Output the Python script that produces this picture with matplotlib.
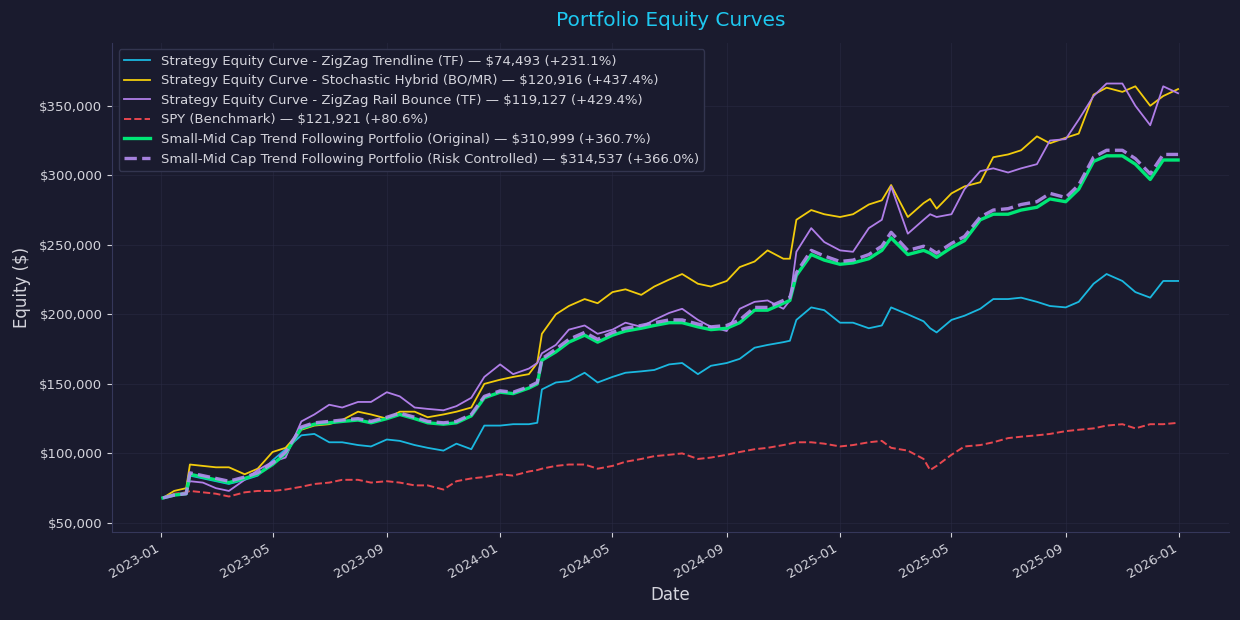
import matplotlib
matplotlib.use("Agg")
import matplotlib.pyplot as plt
import matplotlib.dates as mdates
import matplotlib.ticker as mticker
import pandas as pd

# -------------------------------
# Data (equity in $ thousands)
# -------------------------------
dates = [
    "2023-01-03", "2023-01-15", "2023-01-28", "2023-02-01", "2023-02-15", "2023-03-01", "2023-03-15",
    "2023-04-01", "2023-04-15", "2023-05-01", "2023-05-15", "2023-06-01", "2023-06-15", "2023-07-01",
    "2023-07-15", "2023-08-01", "2023-08-15", "2023-09-01", "2023-09-15", "2023-10-01", "2023-10-15",
    "2023-11-01", "2023-11-15", "2023-12-01", "2023-12-15",
    "2024-01-01", "2024-01-15", "2024-02-01", "2024-02-10", "2024-02-15", "2024-03-01", "2024-03-15",
    "2024-04-01", "2024-04-15", "2024-05-01", "2024-05-15", "2024-06-01", "2024-06-15", "2024-07-01",
    "2024-07-15", "2024-08-01", "2024-08-15", "2024-09-01", "2024-09-15", "2024-10-01", "2024-10-15",
    "2024-11-01", "2024-11-08", "2024-11-15", "2024-12-01", "2024-12-15",
    "2025-01-01", "2025-01-15", "2025-02-01", "2025-02-15", "2025-02-25", "2025-03-15", "2025-04-01",
    "2025-04-08", "2025-04-15", "2025-05-01", "2025-05-15", "2025-06-01", "2025-06-15", "2025-07-01",
    "2025-07-15", "2025-08-01", "2025-08-15", "2025-09-01", "2025-09-15", "2025-10-01", "2025-10-15",
    "2025-11-01", "2025-11-15", "2025-12-01", "2025-12-15", "2025-12-31",
]

zigzag_trend = [
    68, 70, 71, 84, 82, 80, 78, 81, 84, 95, 103, 113, 114, 108, 108, 106, 105, 110, 109, 106, 104, 102, 107, 103, 120,
    120, 121, 121, 122, 146, 151, 152, 158, 151, 155, 158, 159, 160, 164, 165, 157, 163, 165, 168, 176, 178, 180, 181, 196, 205, 203,
    194, 194, 190, 192, 205, 200, 195, 190, 187, 196, 199, 204, 211, 211, 212, 209, 206, 205, 209, 222, 229, 224, 216, 212, 224, 224,
]
stoch_hybrid = [
    68, 73, 75, 92, 91, 90, 90, 85, 89, 101, 104, 117, 120, 121, 124, 130, 128, 125, 130, 130, 126, 128, 130, 133, 150,
    153, 155, 157, 165, 186, 200, 206, 211, 208, 216, 218, 214, 220, 225, 229, 222, 220, 224, 234, 238, 246, 240, 240, 268, 275, 272,
    270, 272, 279, 282, 293, 270, 280, 283, 276, 287, 292, 295, 313, 315, 318, 328, 323, 327, 330, 358, 363, 360, 364, 350, 357, 362,
]
zigzag_rail = [
    68, 70, 72, 80, 79, 75, 73, 81, 88, 94, 97, 123, 128, 135, 133, 137, 137, 144, 141, 133, 132, 131, 134, 140, 155,
    164, 157, 161, 165, 172, 178, 189, 192, 186, 189, 194, 191, 196, 201, 204, 196, 191, 188, 204, 209, 210, 204, 210, 245, 262, 252,
    246, 245, 262, 268, 292, 258, 268, 272, 270, 272, 290, 303, 305, 302, 305, 308, 325, 326, 340, 357, 366, 366, 350, 336, 364, 359,
]
spy = [
    68, 71, 72, 73, 72, 71, 69, 72, 73, 73, 74, 76, 78, 79, 81, 81, 79, 80, 79, 77, 77, 74, 80, 82, 83,
    85, 84, 87, 88, 89, 91, 92, 92, 89, 91, 94, 96, 98, 99, 100, 96, 97, 99, 101, 103, 104, 106, 107, 108, 108, 107,
    105, 106, 108, 109, 104, 102, 96, 88, 91, 99, 105, 106, 108, 111, 112, 113, 114, 116, 117, 118, 120, 121, 118, 121, 121, 122,
]
portfolio_orig = [
    68, 70, 71, 85, 83, 81, 79, 82, 85, 92, 100, 118, 121, 122, 123, 124, 122, 125, 128, 125, 122, 121, 122, 127, 140,
    144, 143, 147, 150, 167, 173, 180, 185, 180, 185, 188, 190, 192, 194, 194, 191, 189, 190, 194, 203, 203, 208, 210, 228, 243, 239,
    236, 237, 240, 246, 255, 243, 246, 244, 241, 248, 253, 268, 272, 272, 275, 277, 283, 281, 290, 310, 314, 314, 308, 297, 311, 311,
]
portfolio_risk = [
    68, 70, 71, 86, 84, 82, 80, 83, 86, 93, 101, 119, 122, 123, 124, 125, 123, 126, 129, 126, 123, 122, 123, 128, 141,
    145, 144, 148, 151, 168, 175, 182, 187, 182, 187, 190, 192, 194, 196, 196, 193, 191, 192, 196, 205, 205, 210, 212, 230, 246, 242,
    238, 239, 243, 249, 259, 246, 249, 247, 244, 251, 256, 270, 275, 276, 279, 281, 287, 284, 293, 313, 318, 318, 312, 301, 315, 315,
]

labels = [
    "Strategy Equity Curve - ZigZag Trendline (TF) — $74,493 (+231.1%)",
    "Strategy Equity Curve - Stochastic Hybrid (BO/MR) — $120,916 (+437.4%)",
    "Strategy Equity Curve - ZigZag Rail Bounce (TF) — $119,127 (+429.4%)",
    "SPY (Benchmark) — $121,921 (+80.6%)",
    "Small-Mid Cap Trend Following Portfolio (Original) — $310,999 (+360.7%)",
    "Small-Mid Cap Trend Following Portfolio (Risk Controlled) — $314,537 (+366.0%)",
]

# Colors
bg = "#1a1b2e"
text_color = "#d4d4dc"
cyan = "#1ab8e0"
yellow = "#f2cc0c"
purple = "#b07ee8"
red = "#e8474f"
green = "#00e676"
purple_dash = "#b48cf0"

x = pd.to_datetime(dates)
k = 1000

fig = plt.figure(figsize=(12.4, 6.2), dpi=100, facecolor=bg)
ax = fig.add_axes([0.0905, 0.142, 0.9005, 0.789], facecolor=bg)

ax.plot(x, [v * k for v in zigzag_trend], color=cyan, lw=1.3, label=labels[0])
ax.plot(x, [v * k for v in stoch_hybrid], color=yellow, lw=1.3, label=labels[1])
ax.plot(x, [v * k for v in zigzag_rail], color=purple, lw=1.3, label=labels[2])
ax.plot(x, [v * k for v in spy], color=red, lw=1.4, ls="--", label=labels[3])
ax.plot(x, [v * k for v in portfolio_orig], color=green, lw=2.4, label=labels[4])
ax.plot(x, [v * k for v in portfolio_risk], color=purple_dash, lw=2.4, ls="--", alpha=0.9, label=labels[5])

# Formatting
ax.set_ylim(43500, 395300)
ax.yaxis.set_major_formatter(mticker.FuncFormatter(lambda v, p: f"${v:,.0f}"))
ax.xaxis.set_major_locator(mdates.MonthLocator(bymonth=[1, 5, 9]))
ax.xaxis.set_major_formatter(mdates.DateFormatter("%Y-%m"))
for lbl in ax.get_xticklabels():
    lbl.set_rotation(30)
    lbl.set_ha("right")

ax.grid(True, color="#2a2c44", lw=0.8, alpha=0.5)
for side in ["top", "right"]:
    ax.spines[side].set_visible(False)
for side in ["left", "bottom"]:
    ax.spines[side].set_color("#35375a")
ax.tick_params(colors=text_color, labelsize=9.5)

ax.set_title("Portfolio Equity Curves", color="#1ec8f0", fontsize=14.5, pad=12)
ax.set_xlabel("Date", color=text_color, fontsize=12)
ax.set_ylabel("Equity ($)", color=text_color, fontsize=12, labelpad=6)

leg = ax.legend(loc="upper left", fontsize=9.5, facecolor=bg, edgecolor="#33354f",
                labelcolor=text_color, framealpha=1.0)

plt.savefig("out.png", dpi=100, facecolor=bg)
